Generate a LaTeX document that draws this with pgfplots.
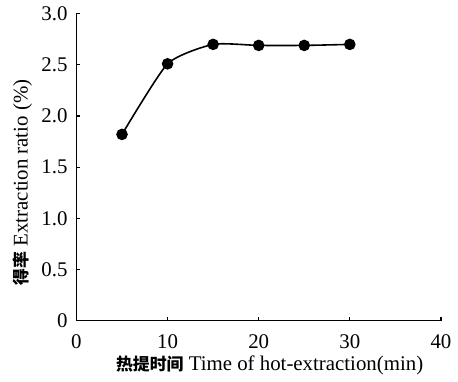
\documentclass[border=0pt]{standalone}
\usepackage{pgfplots}
\pgfplotsset{compat=1.18}
\usepackage{fontspec}
\setmainfont{Liberation Serif}
\newfontfamily\cjk{Noto Sans CJK SC}
\begin{document}
\begin{tikzpicture}
\begin{axis}[
  scale only axis, width=183.5pt, height=154.5pt,
  xmin=0, xmax=40, ymin=0, ymax=3,
  axis x line*=bottom, axis y line*=left,
  axis line style={-, line width=0.9pt},
  xtick={0,10,20,30,40}, xticklabels={0,10,20,30,40},
  ytick={0,0.5,1,1.5,2,2.5,3}, yticklabels={0,0.5,1.0,1.5,2.0,2.5,3.0},
  tick align=inside, major tick length=2pt,
  tick style={line width=0.6pt, black},
  tick label style={font=\fontsize{10.5}{12}\selectfont},
  yticklabel style={xshift=-1pt},
  xticklabel style={yshift=-3.5pt},
  clip=false,
  xlabel={{\cjk\bfseries\fontsize{8.5}{10}\selectfont 热提时间} Time of hot-extraction(min)},
  xlabel style={at={(axis description cs:0.53,-0.1456)}, anchor=center, font=\fontsize{10.5}{12}\selectfont},
  ylabel={{\cjk\bfseries\fontsize{8.5}{10}\selectfont 得率} Extraction ratio (\%)},
  ylabel style={at={(axis description cs:-0.148,0.45)}, anchor=center, font=\fontsize{10.5}{12}\selectfont},
]
\path (axis cs:-8.39,-0.592) (axis cs:41.53,3.126);
\addplot[black, line width=0.8pt, smooth, tension=0.35, mark=*, mark size=2.5pt, mark options={fill=black}]
coordinates {(5,1.82) (10,2.51) (15,2.70) (20,2.69) (25,2.69) (30,2.70)};
\end{axis}
\end{tikzpicture}
\end{document}
